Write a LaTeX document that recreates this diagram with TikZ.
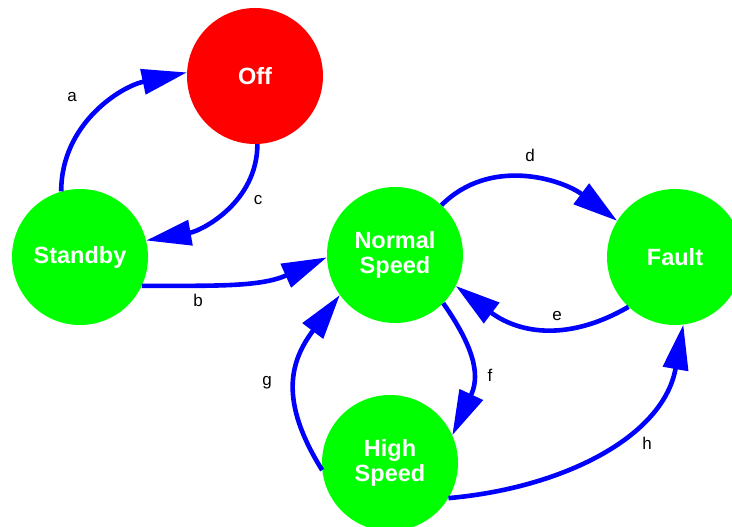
\documentclass[tikz,border=0pt]{standalone}
\usepackage{fontspec}
\setmainfont{Liberation Sans}
\usetikzlibrary{arrows.meta}
\begin{document}
\begin{tikzpicture}[x=1pt,y=1pt,
 state/.style={circle, minimum size=136pt, inner sep=0pt, text=white, font=\fontsize{23.5}{25}\selectfont\bfseries, align=center},
 tr/.style={draw=blue, line width=4.6pt, -{Triangle[length=45pt,width=25pt]}},
 lbl/.style={font=\fontsize{17}{20}\selectfont, text=black}]
\useasboundingbox (0,0) rectangle (732,527);
\clip (0,0) rectangle (732,527);
\node[state, fill=red] (off) at (255,451) {Off};
\node[state, fill=green] (sb) at (80,270) {Standby};
\node[state, fill=green] (ns) at (395,272) {Normal\\Speed};
\node[state, fill=green] (fa) at (675,270) {Fault};
\node[state, fill=green] (hs) at (390,64) {High\\Speed};
\draw[tr] (sb.106) to[out=90, in=192] (off.177);
\draw[tr] (off.272) to[out=270, in=10] (sb.14);
\draw[tr] (sb.-25) to[out=0, in=204] (ns.182);
\draw[tr] (ns.47) to[out=45, in=143] (fa.148);
\draw[tr] (fa.227) to[out=210, in=323, looseness=1.1] (ns.333);
\draw[tr] (ns.315) to[out=-55, in=65, looseness=1.2] (hs.24);
\draw[tr] (hs.186) to[out=122, in=233, looseness=1.2] (ns.216);
\draw[tr] (hs.329) to[out=5, in=260] (fa.277);
\node[lbl] (la) at (72,430) {a};
\node[lbl] (lc) at (258,327) {c};
\node[lbl] (lb) at (198,227) {b};
\node[lbl] (ld) at (530,372) {d};
\node[lbl] (le) at (557,211) {e};
\node[lbl] (lf) at (490,152) {f};
\node[lbl] (lg) at (267,144) {g};
\node[lbl] (lh) at (647,84) {h};
\end{tikzpicture}
\end{document}
